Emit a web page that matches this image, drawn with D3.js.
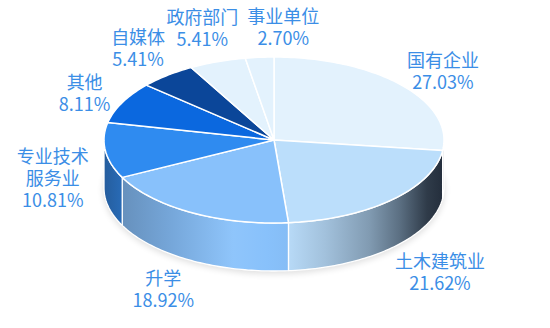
<!DOCTYPE html>
<html><head><meta charset="utf-8">
<script src="https://cdn.jsdelivr.net/npm/d3@7"></script>
<style>html,body{margin:0;padding:0;background:#fff;}svg{display:block;}</style>
</head><body>
<svg id="chart" width="550" height="328"></svg>
<script>
const categories = ['国有企业','土木建筑业','升学','专业技术服务业','其他','自媒体','政府部门','事业单位'];
const shares = [27.03, 21.62, 18.92, 10.81, 8.11, 5.41, 5.41, 2.70];
const sliceColors = ['#e3f2fd','#bbdefb','#88c1fb','#2f8bf0','#0b68df','#0b4699','#e3f2fd','#e3f2fd'];

const W = 550, H = 328;
const cx = 274, cy = 140, rx = 170, ry = 83, depth = 48;
const svg = d3.select('#chart');
const defs = svg.append('defs');

const data = categories.map((c, i) => ({name: c, value: shares[i]}));
const color = d3.scaleOrdinal().domain(categories).range(sliceColors);
const arcs = d3.pie().sort(null).value(d => d.value).startAngle(0).endAngle(2 * Math.PI)(data);

const px = a => cx + rx * Math.sin(a);
const py = (a, dy = 0) => cy - ry * Math.cos(a) + dy;
function arcPts(a0, a1, dy) {
  const n = Math.max(2, Math.ceil(Math.abs(a1 - a0) / 0.02));
  const pts = [];
  for (let k = 0; k <= n; k++) {
    const a = a0 + (a1 - a0) * k / n;
    pts.push([px(a), py(a, dy)]);
  }
  return pts;
}
const line = d3.line();

// shadow
const f = defs.append('filter').attr('id', 'shadow').attr('x', '-20%').attr('y', '-20%').attr('width', '140%').attr('height', '140%');
f.append('feGaussianBlur').attr('stdDeviation', 3);
svg.append('ellipse').attr('cx', cx).attr('cy', cy + depth + 2).attr('rx', rx + 1).attr('ry', ry + 1)
  .attr('fill', '#000').attr('opacity', 0.12).attr('filter', 'url(#shadow)');

// side shading stops: offset across width, t (>0 darken, <0 lighten)
const shade = [[0,0.42],[0.05,0.3],[0.2,0.16],[0.38,-0.06],[0.48,0],[0.55,0.03],[0.65,0.15],[0.78,0.35],[0.87,0.58],[0.95,0.85],[1,0.92]];
function shadeColor(c, t) {
  return t >= 0 ? d3.interpolateRgb(c, '#161e2a')(t) : d3.interpolateRgb(c, '#ffffff')(-t);
}

const sides = svg.append('g');
arcs.forEach((d, i) => {
  const s = Math.max(d.startAngle, Math.PI / 2), e = Math.min(d.endAngle, 3 * Math.PI / 2);
  if (e <= s) return;
  const c = color(d.data.name);
  const g = defs.append('linearGradient').attr('id', 'side' + i).attr('gradientUnits', 'userSpaceOnUse')
    .attr('x1', cx - rx).attr('x2', cx + rx).attr('y1', 0).attr('y2', 0);
  shade.forEach(([o, t]) => g.append('stop').attr('offset', o).attr('stop-color', shadeColor(c, t)));
  const pts = arcPts(s, e, 0).concat(arcPts(e, s, depth));
  sides.append('path').attr('d', line(pts) + 'Z')
    .attr('fill', `url(#side${i})`).attr('stroke', '#fff').attr('stroke-width', 1.3).attr('stroke-linejoin', 'round');
});

const tops = svg.append('g');
arcs.forEach(d => {
  const pts = [[cx, cy]].concat(arcPts(d.startAngle, d.endAngle, 0));
  tops.append('path').attr('d', line(pts) + 'Z')
    .attr('fill', color(d.data.name)).attr('stroke', '#fff').attr('stroke-width', 1.5).attr('stroke-linejoin', 'round');
});

// labels
const Rx = rx * 1.3, Ry = ry * 1.3;
const nudge = [[3,1],[13,18],[-3,12],[-2,17],[8,1],[3,-9],[2,-11],[28,-6]];
const labels = svg.append('g').attr('font-family', '"Microsoft YaHei","Noto Sans CJK SC","Noto Sans",sans-serif')
  .attr('font-size', 18).attr('fill', '#3b8ee6').attr('text-anchor', 'middle');
arcs.forEach((d, i) => {
  const m = (d.startAngle + d.endAngle) / 2;
  const cosm = Math.cos(m);
  const x = cx + Rx * Math.sin(m) + nudge[i][0];
  const y = cy - Ry * cosm + (cosm < 0 ? -cosm * depth : 0) + nudge[i][1];
  const name = d.data.name;
  const lines = name.length > 5 ? [name.slice(0, 4), name.slice(4)] : [name];
  lines.push(d.data.value.toFixed(2) + '%');
  const lh = 22;
  const t = labels.append('text').attr('x', x).attr('y', y);
  lines.forEach((L, k) => {
    t.append('tspan').attr('x', x).attr('y', y + (k - (lines.length - 1) / 2) * lh)
      .attr('dominant-baseline', 'central').text(L);
  });
});
</script>
</body></html>
